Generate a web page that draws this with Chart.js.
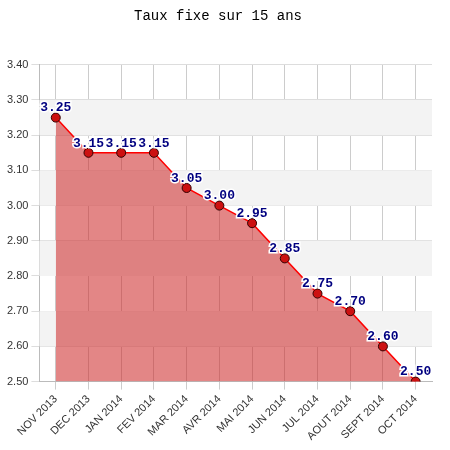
<!DOCTYPE html>
<html><head><meta charset="utf-8">
<script src="https://cdn.jsdelivr.net/npm/chart.js@4"></script>
<style>html,body{margin:0;background:#fff}#wrap{width:450px;height:450px}</style>
</head><body><div id="wrap"><canvas id="c"></canvas></div>
<script>
const labels = ["NOV 2013","DEC 2013","JAN 2014","FEV 2014","MAR 2014","AVR 2014","MAI 2014","JUN 2014","JUL 2014","AOUT 2014","SEPT 2014","OCT 2014"];
const rates = [3.25,3.15,3.15,3.15,3.05,3.00,2.95,2.85,2.75,2.70,2.60,2.50];
const bandStarts = [2.60,2.80,3.00,3.20];

const bands = {
  id:"bands",
  beforeDatasetsDraw(ch){
    const {ctx, chartArea:a, scales:{y}} = ch;
    ctx.save(); ctx.fillStyle="#f3f3f3";
    for(const b of bandStarts){
      const t=y.getPixelForValue(b+0.1), bt=y.getPixelForValue(b);
      ctx.fillRect(a.left,t,a.right-a.left,bt-t);
    }
    ctx.restore();
  }
};
const valueLabels = {
  id:"valueLabels",
  afterDatasetsDraw(ch){
    const ctx=ch.ctx, meta=ch.getDatasetMeta(0);
    ctx.save();
    ctx.font="bold 13px 'Liberation Mono', monospace";
    ctx.textAlign="center"; ctx.textBaseline="bottom";
    ctx.lineWidth=3; ctx.strokeStyle="#fff"; ctx.fillStyle="#000080";
    meta.data.forEach((p,i)=>{
      const t=rates[i].toFixed(2);
      ctx.strokeText(t,p.x,p.y-3); ctx.fillText(t,p.x,p.y-3);
    });
    ctx.restore();
  }
};

new Chart(document.getElementById("c"),{
  type:"line",
  data:{labels, datasets:[{data:rates, borderColor:"#ff0000", borderWidth:1.5,
    backgroundColor:"rgba(204,34,34,0.55)", fill:"origin", tension:0,
    pointRadius:4.5, pointBackgroundColor:"#cc1111", pointBorderColor:"#330000", pointBorderWidth:1}]},
  options:{
    responsive:true, maintainAspectRatio:false, animation:false,
    layout:{padding:{right:18,top:0,left:4,bottom:4}},
    plugins:{legend:{display:false}, tooltip:{enabled:false},
      title:{display:true,text:"Taux fixe sur 15 ans",color:"#000",
        font:{family:"'Liberation Mono', monospace",size:14,weight:"normal"},padding:{top:8,bottom:40}}},
    scales:{
      x:{offset:true, grid:{color:"#cccccc",offset:false}, border:{color:"#bbb"},
        ticks:{color:"#333",maxRotation:45,minRotation:45,font:{family:"'Liberation Sans', sans-serif",size:11}}},
      y:{min:2.5,max:3.4, grid:{color:"#dddddd"}, border:{color:"#bbb"},
        ticks:{stepSize:0.1,color:"#333",callback:v=>v.toFixed(2),font:{family:"'Liberation Sans', sans-serif",size:11}}}
    }
  },
  plugins:[bands,valueLabels]
});
</script></body></html>
